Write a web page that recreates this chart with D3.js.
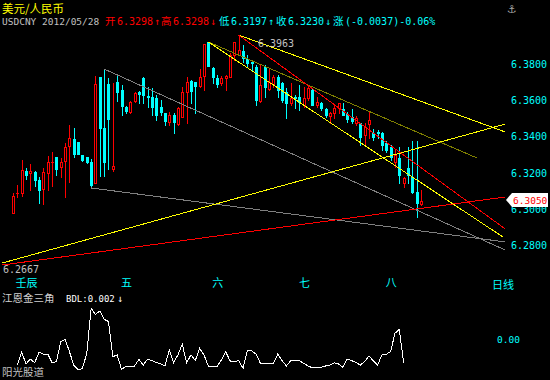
<!DOCTYPE html>
<html>
<head>
<meta charset="utf-8">
<script src="https://cdn.jsdelivr.net/npm/d3@7"></script>
<style>
  html, body { margin: 0; padding: 0; background: #000; }
  svg { display: block; }
  text { font-family: "DejaVu Sans Mono", monospace; }
</style>
</head>
<body>
<div id="chart"></div>
<script>
// USDCNY daily candles (oldest -> newest)
const open = [6.2977,6.3088,6.3088,6.3210,6.3199,6.3204,6.3160,6.3110,6.3199,6.3260,
  6.3288,6.3232,6.3265,6.3348,6.3387,6.3371,6.3299,6.3288,6.3260,6.3144,
  6.3731,6.3448,6.3692,6.3221,6.3703,6.3659,6.3565,6.3537,6.3598,6.3648,
  6.3725,6.3625,6.3620,6.3614,6.3565,6.3531,6.3481,6.3520,6.3470,6.3509,
  6.3648,6.3709,6.3703,6.3681,6.3736,6.3925,6.3781,6.3725,6.3698,6.3725,
  6.3731,6.3853,6.3853,6.3875,6.3830,6.3814,6.3786,6.3598,6.3786,6.3664,
  6.3692,6.3731,6.3698,6.3648,6.3587,6.3620,6.3620,6.3576,6.3614,6.3659,
  6.3576,6.3587,6.3553,6.3515,6.3531,6.3559,6.3553,6.3526,6.3509,6.3476,
  6.3476,6.3409,6.3470,6.3420,6.3426,6.3420,6.3365,6.3343,6.3260,6.3282,
  6.3144,6.3227,6.3177,6.3094,6.3027];
const high = [6.3088,6.3132,6.3271,6.3227,6.3249,6.3210,6.3177,6.3227,6.3293,6.3315,
  6.3290,6.3282,6.3365,6.3465,6.3448,6.3373,6.3299,6.3288,6.3276,6.3736,
  6.3733,6.3775,6.3725,6.3698,6.3747,6.3686,6.3570,6.3598,6.3648,6.3653,
  6.3731,6.3675,6.3670,6.3631,6.3603,6.3533,6.3537,6.3531,6.3565,6.3675,
  6.3731,6.3714,6.3705,6.3775,6.3914,6.3925,6.3786,6.3742,6.3736,6.3742,
  6.3864,6.3925,6.3963,6.3908,6.3853,6.3825,6.3797,6.3797,6.3797,6.3781,
  6.3742,6.3742,6.3703,6.3670,6.3698,6.3631,6.3686,6.3675,6.3686,6.3670,
  6.3620,6.3592,6.3559,6.3537,6.3581,6.3589,6.3587,6.3537,6.3553,6.3515,
  6.3478,6.3476,6.3537,6.3443,6.3437,6.3426,6.3376,6.3354,6.3326,6.3343,
  6.3177,6.3343,6.3376,6.3376,6.3105];
const low = [6.2977,6.3066,6.3072,6.3166,6.3105,6.3127,6.3033,6.3027,6.3105,6.3127,
  6.3188,6.3177,6.3066,6.3149,6.3288,6.3302,6.3265,6.3254,6.3116,6.3144,
  6.3182,6.3182,6.3221,6.3210,6.3598,6.3520,6.3531,6.3531,6.3592,6.3587,
  6.3587,6.3565,6.3520,6.3493,6.3520,6.3465,6.3465,6.3420,6.3465,6.3507,
  6.3476,6.3587,6.3531,6.3675,6.3659,6.3792,6.3698,6.3675,6.3686,6.3659,
  6.3729,6.3825,6.3851,6.3814,6.3786,6.3770,6.3576,6.3592,6.3620,6.3659,
  6.3675,6.3620,6.3592,6.3504,6.3576,6.3559,6.3548,6.3565,6.3603,6.3574,
  6.3565,6.3548,6.3509,6.3476,6.3504,6.3531,6.3518,6.3481,6.3476,6.3465,
  6.3354,6.3354,6.3393,6.3382,6.3393,6.3326,6.3315,6.3271,6.3232,6.3144,
  6.3121,6.3144,6.3088,6.2955,6.3022];
const close = [6.3072,6.3090,6.3216,6.3188,6.3210,6.3160,6.3105,6.3204,6.3260,6.3262,
  6.3221,6.3260,6.3343,6.3393,6.3304,6.3304,6.3271,6.3260,6.3132,6.3692,
  6.3448,6.3260,6.3498,6.3238,6.3648,6.3570,6.3542,6.3592,6.3642,6.3637,
  6.3631,6.3620,6.3565,6.3520,6.3537,6.3487,6.3520,6.3481,6.3559,6.3648,
  6.3703,6.3653,6.3681,6.3731,6.3912,6.3792,6.3731,6.3692,6.3725,6.3736,
  6.3853,6.3923,6.3880,6.3836,6.3808,6.3808,6.3603,6.3686,6.3675,6.3703,
  6.3731,6.3659,6.3603,6.3587,6.3614,6.3614,6.3592,6.3614,6.3670,6.3576,
  6.3592,6.3559,6.3520,6.3531,6.3559,6.3587,6.3520,6.3498,6.3487,6.3504,
  6.3398,6.3454,6.3493,6.3398,6.3420,6.3354,6.3326,6.3288,6.3299,6.3188,
  6.3171,6.3188,6.3094,6.3033,6.3044];

const priceTicks = [6.28, 6.30, 6.32, 6.34, 6.36, 6.38];
const monthIdx = [0, 25, 46, 66, 86];
const monthLabels = ["壬辰", "五", "六", "七", "八"];
const highMark = 6.3963;
const lowMark = 6.2667;
const lastMark = 6.3050;

// trend lines drawn on the chart: [candle index, price] pairs
const grayLineA = [[18, 6.3116], [113.4, 6.2817]];
const grayLineB = [[21, 6.3775], [113.4, 6.2772]];
const yellowRise = [[-2.5, 6.2700], [113.4, 6.3470]];
const redRise = [[-2.5, 6.2689], [113.4, 6.3066]];
const yellowTop = [[52, 6.3963], [113.4, 6.3426]];
const oliveMid = [[45, 6.3925], [106.9, 6.3282]];
const yellowLow = [[45, 6.3925], [112.9, 6.2844]];
const redFall = [[52, 6.3963], [113.4, 6.2889]];

// 江恩金三角 indicator, starts at candle 1
const bdl = [-0.0087,-0.0044,-0.0083,-0.0067,-0.0079,-0.0044,-0.0050,-0.0050,-0.0079,-0.0076,
  -0.0009,-0.0001,-0.0042,-0.0087,-0.0103,-0.0098,-0.0048,0.0102,0.0082,0.0093,
  0.0066,0.0058,-0.0059,-0.0053,-0.0101,-0.0092,-0.0090,-0.0090,-0.0068,-0.0087,
  -0.0067,-0.0072,-0.0078,-0.0083,-0.0090,-0.0037,-0.0079,-0.0053,-0.0017,-0.0079,
  -0.0053,-0.0072,-0.0031,-0.0053,-0.0090,-0.0092,-0.0092,-0.0070,-0.0042,-0.0073,
  -0.0076,-0.0072,-0.0098,-0.0037,-0.0040,-0.0050,-0.0081,-0.0083,-0.0081,-0.0081,
  -0.0050,-0.0072,-0.0090,-0.0072,-0.0073,-0.0073,-0.0081,-0.0090,-0.0096,-0.0094,
  -0.0094,-0.0090,-0.0087,-0.0079,-0.0083,-0.0094,-0.0067,-0.0072,-0.0078,-0.0087,
  -0.0076,-0.0057,-0.0072,-0.0087,-0.0053,-0.0051,-0.0042,0.0019,0.0032,-0.0079];
const bdlTicks = [0];

const RED = "#ff0000", CYAN = "#00ffff", GRAY = "#c0c0c0";
const CJK = '"Noto Sans CJK SC", sans-serif';
const MONO = '"DejaVu Sans Mono", monospace';

const svg = d3.select("#chart").append("svg")
  .attr("width", 550).attr("height", 380)
  .style("background", "#000");

const x = d3.scaleLinear().domain([0, open.length - 1]).range([13, 421]);
const y = d3.scaleLinear().domain([6.28, 6.38]).range([245, 64.5]);
const ySub = d3.scaleLinear().domain([-0.01, 0.01]).range([369, 309]);

const px = i => Math.round(x(i));
const py = v => Math.round(y(v));

const label = (g, xp, yp, str, col, size, fam) => {
  const t = g.append("text").attr("x", xp).attr("y", yp)
    .attr("fill", col).style("font-size", size + "px").text(str);
  if (fam) t.style("font-family", fam);
  return t;
};
// one text line made of coloured pieces: [str, x, colour, font, size]
const pieces = (g, yp, parts) => {
  const t = g.append("text").attr("y", yp);
  parts.forEach(([s, xp, col, fam, size]) => {
    t.append("tspan").attr("x", xp).attr("fill", col)
      .style("font-family", fam).style("font-size", size + "px").text(s);
  });
  return t;
};

// candles
const data = d3.range(open.length).map(i => ({
  i, o: open[i], h: high[i], l: low[i], c: close[i], up: close[i] >= open[i]
}));
const gC = svg.append("g").attr("shape-rendering", "crispEdges");
const candle = gC.selectAll("g").data(data).join("g");
candle.append("rect")
  .attr("x", d => px(d.i)).attr("width", 1)
  .attr("y", d => py(d.h))
  .attr("height", d => Math.max(1, py(d.l) - py(d.h) + 1))
  .attr("fill", d => d.up ? RED : CYAN);
candle.append("rect")
  .attr("x", d => px(d.i) - 1).attr("width", 3)
  .attr("y", d => py(Math.max(d.o, d.c)))
  .attr("height", d => Math.max(1, py(Math.min(d.o, d.c)) - py(Math.max(d.o, d.c)) + 1))
  .attr("fill", d => d.up ? RED : CYAN);
// hollow up candles
candle.filter(d => d.up && py(d.o) - py(d.c) >= 2).append("rect")
  .attr("x", d => px(d.i)).attr("width", 1)
  .attr("y", d => py(d.c) + 1)
  .attr("height", d => py(d.o) - py(d.c) - 1)
  .attr("fill", "#000");

// trend lines
const line = d3.line().x(d => x(d[0])).y(d => y(d[1]));
const gL = svg.append("g").attr("fill", "none").attr("stroke-width", 1)
  .attr("shape-rendering", "crispEdges");
[[grayLineA, "#808080"], [grayLineB, "#808080"], [yellowRise, "#ffff00"],
 [redRise, RED], [yellowTop, "#ffff00"], [oliveMid, "#808000"],
 [yellowLow, "#ffff00"], [redFall, RED]].forEach(([pts, col]) => {
  gL.append("path").datum(pts).attr("d", line).attr("stroke", col);
});

// price axis on the right
const yAxis = svg.append("g").attr("transform", "translate(507,0)")
  .call(d3.axisRight(y).tickValues(priceTicks).tickSize(0).tickPadding(4)
    .tickFormat(d3.format(".4f")));
yAxis.select(".domain").remove();
yAxis.selectAll("text").attr("fill", CYAN)
  .style("font-size", "10px").style("font-family", MONO);

// last price marker (covers the 6.3000 tick as in the terminal)
const ym = y(lastMark);
svg.append("path")
  .attr("d", `M506,${ym} L512,${ym - 7} L548,${ym - 7} L548,${ym + 7} L512,${ym + 7} Z`)
  .attr("fill", "#ffffff");
label(svg, 513, ym + 4, d3.format(".4f")(lastMark), RED, 9.5);

// high / low markers
label(svg, 258, y(highMark) + 12, d3.format(".4f")(highMark), GRAY, 10);
label(svg, 3, 273, d3.format(".4f")(lowMark), GRAY, 10);

// month axis
const xAxis = svg.append("g").attr("transform", "translate(0,277)")
  .call(d3.axisBottom(x).tickValues(monthIdx).tickSize(0).tickPadding(0)
    .tickFormat((d, k) => monthLabels[k]));
xAxis.select(".domain").remove();
xAxis.selectAll("text").attr("fill", CYAN).attr("text-anchor", "start")
  .attr("dx", (d, k) => k === 0 ? 2 : -1).attr("dy", "0.9em")
  .style("font-size", "11px").style("font-family", CJK);
label(svg, 492, 289, "日线", CYAN, 11, CJK);

// header
const gH = svg.append("g");
label(gH, 2, 13, "美元/人民币", "#ffff00", 11.5, CJK);
pieces(gH, 25, [
  ["USDCNY 2012/05/28", 2, GRAY, MONO, 9.5],
  ["开", 105, RED, CJK, 10.5],
  ["6.3298", 117, RED, MONO, 10],
  ["↑", 154, RED, MONO, 10],
  ["高", 161, RED, CJK, 10.5],
  ["6.3298", 173, RED, MONO, 10],
  ["↓", 210, RED, MONO, 10],
  ["低", 219, CYAN, CJK, 10.5],
  ["6.3197", 231, CYAN, MONO, 10],
  ["↑", 268, CYAN, MONO, 10],
  ["收", 276, CYAN, CJK, 10.5],
  ["6.3230", 288, CYAN, MONO, 10],
  ["↓", 325, CYAN, MONO, 10],
  ["涨", 333, CYAN, CJK, 10.5],
  ["(-0.0037)-0.06%", 345, CYAN, MONO, 10]
]);
label(gH, 512, 13, "⚓", "#a0a0a0", 11, "DejaVu Sans").attr("text-anchor", "middle");

// indicator panel
pieces(svg, 302, [
  ["江恩金三角", 2, "#d0d0d0", CJK, 10.5],
  ["BDL:0.002", 66, "#ffffff", MONO, 9],
  ["↓", 117, "#ffffff", MONO, 10]
]);
svg.append("path").datum(bdl)
  .attr("d", d3.line().x((d, k) => x(k + 1)).y(d => ySub(d)))
  .attr("fill", "none").attr("stroke", "#ffffff").attr("stroke-width", 1)
  .attr("shape-rendering", "crispEdges");
const subAxis = svg.append("g").attr("transform", "translate(493,0)")
  .call(d3.axisRight(ySub).tickValues(bdlTicks).tickSize(0).tickPadding(4)
    .tickFormat(d3.format(".2f")));
subAxis.select(".domain").remove();
subAxis.selectAll("text").attr("fill", CYAN)
  .style("font-size", "9.5px").style("font-family", MONO);
label(svg, 2, 376, "阳光股道", GRAY, 10.5, CJK);
</script>
</body>
</html>
